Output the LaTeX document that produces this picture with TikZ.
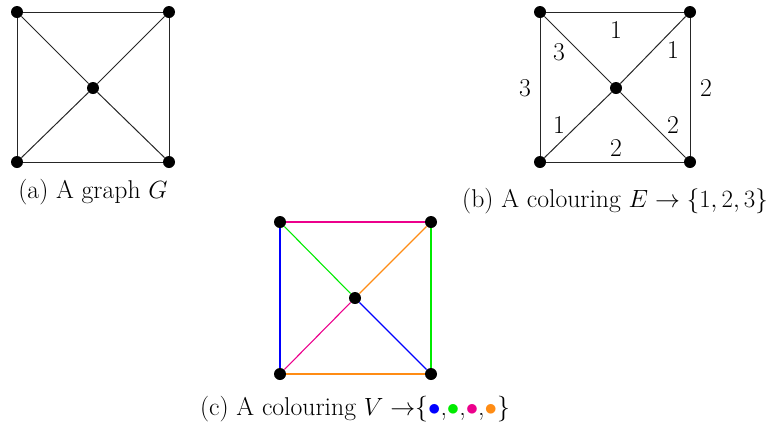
\documentclass[tikz,border=0pt]{standalone}
\usepackage{xcolor}
\definecolor{cblue}{RGB}{0,0,255}
\definecolor{cgreen}{RGB}{0,235,0}
\definecolor{cpink}{RGB}{236,0,140}
\definecolor{corange}{RGB}{255,140,20}
\begin{document}
\begin{tikzpicture}[x=1pt,y=-1pt,
  every node/.style={font=\fontsize{25.7}{31}\selectfont},
  vtx/.style={circle,fill=black,inner sep=0pt,minimum size=12pt},
  edge/.style={line width=1pt,draw=black!85},
  cedge/.style={line width=1.1pt},
  lab/.style={inner sep=2pt}]
\useasboundingbox (0,0) rectangle (772,424);
% (a)
\node[vtx] (a1) at (17,12) {};
\node[vtx] (a2) at (169,12) {};
\node[vtx] (a3) at (17,162) {};
\node[vtx] (a4) at (169,162) {};
\node[vtx] (a0) at (93,88) {};
\draw[edge] (a1) -- (a2) -- (a4) -- (a3) -- (a1);
\draw[edge] (a1) -- (a0) -- (a4);
\draw[edge] (a2) -- (a0) -- (a3);
\node (capa) at (93,192) {(a) A graph $G$};
% (b)
\node[vtx] (b1) at (540,12) {};
\node[vtx] (b2) at (690,12) {};
\node[vtx] (b3) at (540,162) {};
\node[vtx] (b4) at (690,162) {};
\node[vtx] (b0) at (616,88) {};
\draw[edge] (b1) -- (b2) -- (b4) -- (b3) -- (b1);
\draw[edge] (b1) -- (b0) -- (b4);
\draw[edge] (b2) -- (b0) -- (b3);
\node[lab] (l1) at (616,30) {1};
\node[lab] (l2) at (525,88) {3};
\node[lab] (l3) at (706,88) {2};
\node[lab] (l4) at (616,148) {2};
\node[lab] (l5) at (559,52) {3};
\node[lab] (l6) at (673,50) {1};
\node[lab] (l7) at (559,125) {1};
\node[lab] (l8) at (673,125) {2};
\node (capb) at (615,201) {(b) A colouring $E\to\{1,2,3\}$};
% (c)
\node[vtx] (c1) at (280,222) {};
\node[vtx] (c2) at (431,222) {};
\node[vtx] (c3) at (280,374) {};
\node[vtx] (c4) at (431,374) {};
\node[vtx] (c0) at (355,298) {};
\draw[cedge,cpink] (c1) -- (c2);
\draw[cedge,cblue] (c1) -- (c3);
\draw[cedge,cgreen] (c2) -- (c4);
\draw[cedge,corange] (c3) -- (c4);
\draw[cedge,cgreen] (c1) -- (c0);
\draw[cedge,corange] (c2) -- (c0);
\draw[cedge,cpink] (c3) -- (c0);
\draw[cedge,cblue] (c4) -- (c0);
\node (capc) at (355,409) {(c) A colouring $V\to$\{\textcolor{cblue}{$\bullet$},\textcolor{cgreen}{$\bullet$},\textcolor{cpink}{$\bullet$},\textcolor{corange}{$\bullet$}\}};
\end{tikzpicture}
\end{document}
